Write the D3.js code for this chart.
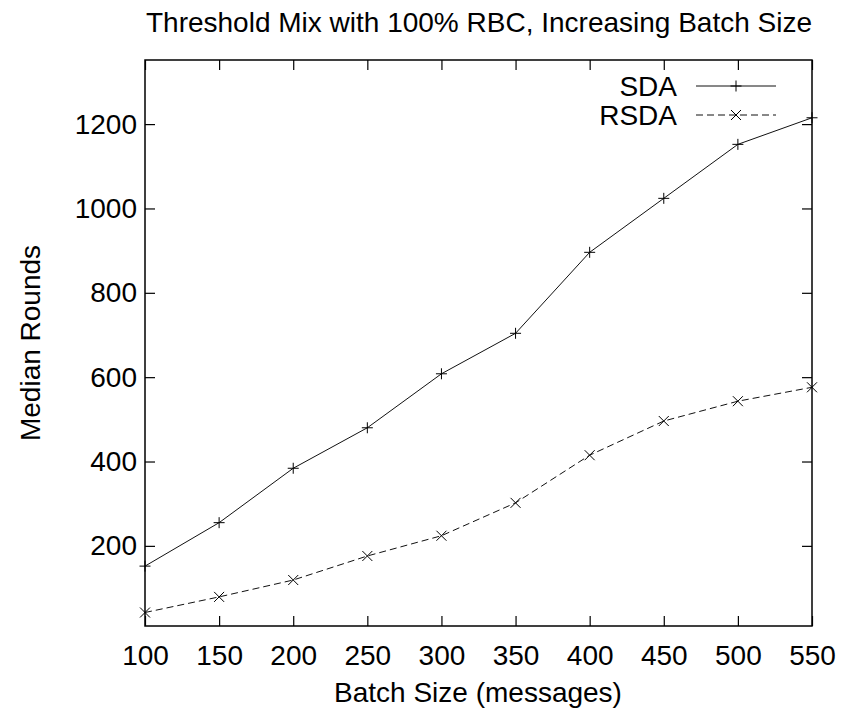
<!DOCTYPE html>
<html>
<head>
<meta charset="utf-8">
<script src="https://cdn.jsdelivr.net/npm/d3@7"></script>
<style>
  body { margin: 0; background: #fff; }
  text { font-family: "Liberation Sans", Arial, sans-serif; fill: #000; }
</style>
</head>
<body>
<svg id="chart" width="842" height="716"></svg>
<script>
// data
const batchSizes = [100, 150, 200, 250, 300, 350, 400, 450, 500, 550];
const sdaRounds = [152, 255, 384, 480, 608, 704, 896, 1024, 1152, 1215];
const rsdaRounds = [42, 79, 119, 176, 224, 302, 415, 496, 543, 576];
const yTicks = [200, 400, 600, 800, 1000, 1200];

const svg = d3.select("#chart");
const margin = { left: 145, right: 842 - 812, top: 60, bottom: 716 - 626 };
const width = 842 - margin.left - margin.right;
const height = 716 - margin.top - margin.bottom;
const fontSize = 28;

const x = d3.scaleLinear().domain([100, 550]).range([0, width]);
const y = d3.scaleLinear().domain([10, 1352]).range([height, 0]);

const g = svg.append("g").attr("transform", `translate(${margin.left},${margin.top})`);

// ticks on all four sides, pointing inward (gnuplot style)
const tickLen = 10;
g.append("g")
  .attr("transform", `translate(0,${height})`)
  .call(d3.axisBottom(x).tickValues(batchSizes).tickFormat(d3.format("d")).tickSizeInner(-tickLen).tickSizeOuter(0))
  .call((a) => a.select(".domain").remove())
  .call((a) => a.selectAll("text").attr("y", 39).attr("dy", null).attr("font-size", fontSize).attr("font-family", null));
g.append("g")
  .call(d3.axisTop(x).tickValues(batchSizes).tickSizeInner(-tickLen).tickSizeOuter(0).tickFormat(""))
  .call((a) => a.select(".domain").remove());
g.append("g")
  .call(d3.axisLeft(y).tickValues(yTicks).tickFormat(d3.format("d")).tickSizeInner(-tickLen).tickSizeOuter(0).tickPadding(8))
  .call((a) => a.select(".domain").remove())
  .call((a) => a.selectAll("text").attr("font-size", fontSize).attr("font-family", null));
g.append("g")
  .attr("transform", `translate(${width},0)`)
  .call(d3.axisRight(y).tickValues(yTicks).tickSizeInner(-tickLen).tickSizeOuter(0).tickFormat(""))
  .call((a) => a.select(".domain").remove());
g.selectAll(".tick line").attr("stroke", "#000").attr("stroke-width", 1.2);

// frame
g.append("rect")
  .attr("width", width)
  .attr("height", height)
  .attr("fill", "none")
  .attr("stroke", "#000")
  .attr("stroke-width", 1.5);

const line = d3.line().x((d) => x(d[0])).y((d) => y(d[1]));
const plus = (sel, s) => sel.append("path").attr("d", `M${-s},0H${s}M0,${-s}V${s}`);
const cross = (sel, s) => sel.append("path").attr("d", `M${-s},${-s}L${s},${s}M${-s},${s}L${s},${-s}`);

const series = [
  { name: "SDA", values: sdaRounds, dash: null, marker: plus, size: 5.5 },
  { name: "RSDA", values: rsdaRounds, dash: "7,4", marker: cross, size: 5 },
];

series.forEach((s, i) => {
  const pts = batchSizes.map((b, j) => [b, s.values[j]]);
  g.append("path")
    .datum(pts)
    .attr("d", line)
    .attr("fill", "none")
    .attr("stroke", "#111")
    .attr("stroke-width", 1)
    .attr("stroke-dasharray", s.dash);
  g.selectAll(".m" + i)
    .data(pts)
    .enter()
    .append("g")
    .attr("transform", (d) => `translate(${x(d[0])},${y(d[1])})`)
    .each(function () {
      s.marker(d3.select(this), s.size).attr("stroke", "#000").attr("stroke-width", 1);
    });

  // legend row
  const ly = 86 + i * 29 - margin.top;
  g.append("text")
    .attr("x", 677 - margin.left)
    .attr("y", ly)
    .attr("dy", "0.35em")
    .attr("text-anchor", "end")
    .attr("font-size", fontSize)
    .text(s.name);
  g.append("line")
    .attr("x1", 696 - margin.left)
    .attr("x2", 776 - margin.left)
    .attr("y1", ly)
    .attr("y2", ly)
    .attr("stroke", "#111")
    .attr("stroke-dasharray", s.dash);
  s.marker(g.append("g").attr("transform", `translate(${736 - margin.left},${ly})`), s.size)
    .attr("stroke", "#000");
});

// titles
svg.append("text")
  .attr("x", 479)
  .attr("y", 32)
  .attr("text-anchor", "middle")
  .attr("font-size", fontSize)
  .text("Threshold Mix with 100% RBC, Increasing Batch Size");
svg.append("text")
  .attr("x", 478)
  .attr("y", 702)
  .attr("text-anchor", "middle")
  .attr("font-size", fontSize)
  .text("Batch Size (messages)");
svg.append("text")
  .attr("transform", "translate(40,343) rotate(-90)")
  .attr("text-anchor", "middle")
  .attr("font-size", fontSize)
  .text("Median Rounds");
</script>
</body>
</html>
